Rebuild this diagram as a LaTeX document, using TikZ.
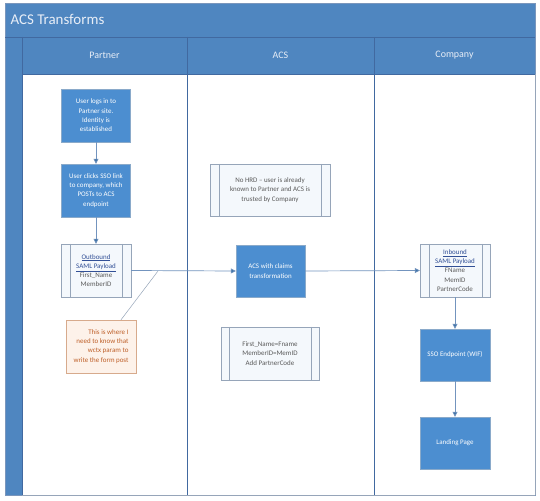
\documentclass[tikz,border=0pt]{standalone}
\usepackage{fontspec}
\setmainfont{Carlito}
\usetikzlibrary{arrows.meta}
\definecolor{headblue}{RGB}{79,134,192}
\definecolor{laneline}{RGB}{65,105,160}
\definecolor{procblue}{RGB}{76,142,208}
\definecolor{arrowc}{RGB}{115,148,190}
\definecolor{headtext}{RGB}{232,238,247}
\definecolor{predfill}{RGB}{244,248,252}
\definecolor{predline}{RGB}{150,165,185}
\definecolor{predtext}{RGB}{90,90,90}
\definecolor{linktext}{RGB}{50,80,150}
\definecolor{notefill}{RGB}{253,242,234}
\definecolor{noteline}{RGB}{215,170,140}
\definecolor{notetext}{RGB}{190,95,40}
\tikzset{
  small/.style={font=\fontsize{7}{9.3}\selectfont},
  procbox/.style={small, draw=procblue!80!black!60, fill=procblue, text=white, align=center, inner sep=0pt, minimum width=69bp},
  predbox/.style={small, draw=predline, fill=predfill, text=predtext, align=center, inner sep=0pt},
  notebox/.style={small, draw=noteline, fill=notefill, text=notetext, align=right, inner sep=0pt, minimum width=70bp, minimum height=53bp},
  flow/.style={draw=arrowc, line width=0.7pt, -{Triangle[length=5bp,width=5bp,fill=procblue!80!black]}},
  lanehead/.style={text=headtext, font=\fontsize{10}{12}\selectfont}
}
\newcommand{\predlines}[3]{%
  \draw[predline] ([xshift=#2]#1.north west) -- ([xshift=#2]#1.south west);
  \draw[predline] ([xshift=-#3]#1.north east) -- ([xshift=-#3]#1.south east);}
\begin{document}
\begin{tikzpicture}[x=1bp,y=-1bp]
\useasboundingbox (0,0) rectangle (540,501);
% frame
\fill[white] (0,0) rectangle (540,501);
\fill[headblue] (5,3) rectangle (535,495);
\fill[white] (22,74) rectangle (535,495);
\draw[laneline!70, line width=0.5pt] (5,3) rectangle (535,495);
\draw[laneline, line width=0.5pt] (5,37) -- (535,37);
\draw[laneline, line width=0.5pt] (22,37) -- (22,495);
\draw[laneline, line width=0.5pt] (22,74) -- (535,74);
\draw[laneline, line width=0.7pt] (187,37) -- (187,495);
\draw[laneline, line width=0.7pt] (374,37) -- (374,495);
\draw[predline, line width=0.7pt] (22,495) -- (535,495);
\draw[predline, line width=0.7pt] (535,74) -- (535,495);
% titles
\node[anchor=west, text=headtext, font=\fontsize{15}{17}\selectfont] (title) at (7,19) {ACS Transforms};
\node[lanehead] (lp) at (104.5,55) {Partner};
\node[lanehead] (la) at (280.5,55) {ACS};
\node[lanehead] (lc) at (454.5,55) {Company};
% Partner lane
\node[procbox, minimum height=53bp] (b1) at (96,115.5) {User logs in to\\Partner site.\\Identity is\\established};
\node[procbox, minimum height=53bp] (b2) at (96,190.5) {User clicks SSO link\\to company, which\\POSTs to ACS\\endpoint};
\node[predbox, minimum width=70bp, minimum height=53bp] (out) at (96,270.5) {\textcolor{linktext}{\underline{Outbound}}\\\textcolor{linktext}{\underline{SAML Payload}}\\First\_Name\\MemberID};
\predlines{out}{9bp}{9bp}
\node[notebox] (note) at (101,346.5) {This is where I\\need to know that\\wctx param to\\write the form post};
% ACS lane
\node[predbox, minimum width=120bp, minimum height=52bp] (hrd) at (270,190) {No HRD -- user is already\\known to Partner and ACS is\\trusted by Company};
\predlines{hrd}{9bp}{9bp}
\node[procbox, minimum width=69bp, minimum height=52bp] (acs) at (270.5,271) {ACS with claims\\transformation};
\node[predbox, minimum width=98bp, minimum height=53bp] (map) at (270,353.5) {First\_Name=Fname\\MemberID=MemID\\Add PartnerCode};
\predlines{map}{8bp}{8bp}
% Company lane
\node[predbox, minimum width=70bp, minimum height=53bp] (in) at (455,270.5) {\textcolor{linktext}{\underline{Inbound}}\\\textcolor{linktext}{\underline{SAML Payload}}\\FName\\MemID\\PartnerCode};
\predlines{in}{9bp}{8bp}
\node[procbox, minimum width=70bp, minimum height=52bp] (sso) at (455,355) {SSO Endpoint (WIF)};
\node[procbox, minimum width=70bp, minimum height=52bp] (land) at (455,443) {Landing Page};
% connectors
\draw[flow] (b1) -- (b2);
\draw[flow] (b2) -- (out);
\draw[flow] (out.east) -- (acs.west);
\draw[flow] (acs.east) -- (in.west);
\draw[flow] (in) -- (sso);
\draw[flow] (sso) -- (land);
\coordinate (tap) at (158,271);
\draw[predline, line width=0.5pt] ([xshift=20bp]note.north) -- (tap);
\end{tikzpicture}
\end{document}
